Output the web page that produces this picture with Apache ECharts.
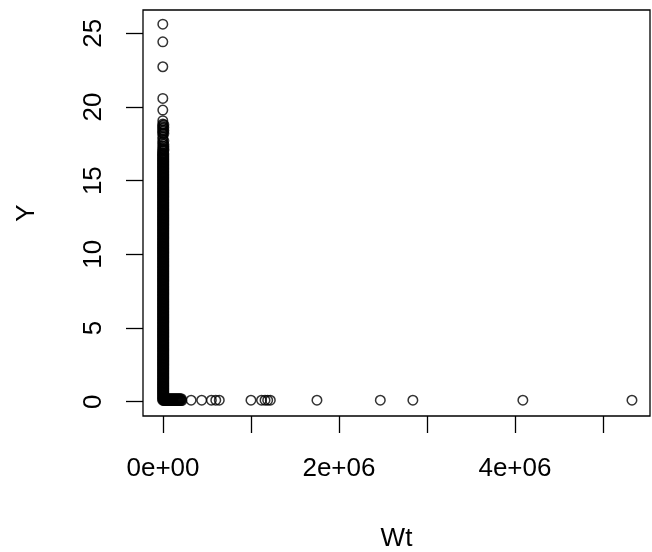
<!DOCTYPE html>
<html><head><meta charset="utf-8">
<script src="https://cdn.jsdelivr.net/npm/echarts@6/dist/echarts.min.js"></script>
<style>html,body{margin:0;padding:0;background:#fff}#c{width:652px;height:552px}</style>
</head><body><div id="c"></div>
<script>
// Axis ticks and labels
const xTickValues = [0, 1e6, 2e6, 3e6, 4e6, 5e6];
const xLabelValues = [0, 2e6, 4e6];
const xLabelTexts = ['0e+00', '2e+06', '4e+06'];
const yTickValues = [0, 5, 10, 15, 20, 25];

// Dense column of points near Wt = 0
const colAX = -4000;
const colAY = [0.1,0.2,0.3,0.4,0.5,0.6,0.7,0.8,0.9,1.0,1.1,1.2,1.3,1.4,1.5,1.6,1.7,1.8,1.9,2.0,
2.1,2.2,2.3,2.4,2.5,2.6,2.7,2.8,2.9,3.0,3.1,3.2,3.3,3.4,3.5,3.6,3.7,3.8,3.9,4.0,
4.1,4.2,4.3,4.4,4.5,4.6,4.7,4.8,4.9,5.0,5.1,5.2,5.3,5.4,5.5,5.6,5.7,5.8,5.9,6.0,
6.1,6.2,6.3,6.4,6.5,6.6,6.7,6.8,6.9,7.0,7.1,7.2,7.3,7.4,7.5,7.6,7.7,7.8,7.9,8.0,
8.1,8.2,8.3,8.4,8.5,8.6,8.7,8.8,8.9,9.0,9.1,9.2,9.3,9.4,9.5,9.6,9.7,9.8,9.9,10.0,
10.1,10.2,10.3,10.4,10.5,10.6,10.7,10.8,10.9,11.0,11.1,11.2,11.3,11.4,11.5,11.6,11.7,11.8,11.9,12.0,
12.1,12.2,12.3,12.4,12.5,12.6,12.7,12.8,12.9,13.0,13.1,13.2,13.3,13.4,13.5,13.6,13.7,13.8,13.9,14.0,
14.1,14.2,14.3,14.4,14.5,14.6,14.7,14.8,14.9,15.0,15.1,15.2,15.3,15.4,15.5,15.6,15.7,15.8,15.9,16.0,
16.1,16.2,16.3,16.4,16.5,16.6,16.7,16.8,16.9];
const colBX = 9000;
const colBY = [0.15,0.25,0.35,0.45,0.55,0.65,0.75,0.85,0.95,1.05,1.15,1.25,1.35,1.45,1.55,1.65,1.75,1.85,1.95,2.05,
2.15,2.25,2.35,2.45,2.55,2.65,2.75,2.85,2.95,3.05,3.15,3.25,3.35,3.45,3.55,3.65,3.75,3.85,3.95,4.05,
4.15,4.25,4.35,4.45,4.55,4.65,4.75,4.85,4.95,5.05,5.15,5.25,5.35,5.45,5.55,5.65,5.75,5.85,5.95,6.05,
6.15,6.25,6.35,6.45,6.55,6.65,6.75,6.85,6.95,7.05,7.15,7.25,7.35,7.45,7.55,7.65,7.75,7.85,7.95,8.05,
8.15,8.25,8.35,8.45,8.55,8.65,8.75,8.85,8.95,9.05,9.15,9.25,9.35,9.45,9.55,9.65,9.75,9.85,9.95,10.05,
10.15,10.25,10.35,10.45,10.55,10.65,10.75,10.85,10.95,11.05,11.15,11.25,11.35,11.45,11.55,11.65,11.75,11.85,11.95,12.05,
12.15,12.25,12.35,12.45,12.55,12.65,12.75,12.85,12.95,13.05,13.15,13.25,13.35,13.45,13.55,13.65,13.75,13.85,13.95,14.05,
14.15,14.25,14.35,14.45,14.55,14.65,14.75,14.85,14.95,15.05,15.15,15.25,15.35,15.45,15.55,15.65,15.75,15.85,15.95,16.05,
16.15,16.25,16.35,16.45,16.55,16.65,16.75,16.85];

// Points in the ragged upper part of the column
const upperX = -2000;
const upperY = [25.62, 24.42, 22.73, 20.58, 19.79, 19.07,
  18.85, 18.75, 18.65, 18.55, 18.45, 18.35, 18.25, 18.15,
  17.95, 17.8, 17.62, 17.5, 17.35, 17.2, 17.1, 17.0];
const upper2X = 10000;
const upper2Y = [18.8, 18.6, 18.4, 18.2, 17.7, 17.45, 17.3, 17.15, 17.05];

// Dense row of points along Y ~ 0
const rowAY = 0.08;
const rowAX = [10000,22000,34000,46000,58000,70000,82000,94000,106000,118000,130000,142000,154000,166000,178000,190000,202000,214000];
const rowBY = 0.2;
const rowBX = [16000,28000,40000,52000,64000,76000,88000,100000,112000,124000,136000,148000,160000,172000,184000,196000,208000];

// Isolated points with large Wt
const lowY = 0.1;
const lowX = [320000, 440000, 550000, 600000, 640000, 1000000, 1120000, 1160000, 1190000, 1220000, 1750000, 2470000, 2840000, 4090000, 5330000];

const data = [];
colAY.forEach(y => data.push([colAX, y]));
colBY.forEach(y => data.push([colBX, y]));
upperY.forEach(y => data.push([upperX, y]));
upper2Y.forEach(y => data.push([upper2X, y]));
rowAX.forEach(x => data.push([x, rowAY]));
rowBX.forEach(x => data.push([x, rowBY]));
lowX.forEach(x => data.push([x, lowY]));

const FONT = 'Liberation Sans, Arial, sans-serif';
const FS = 26;

const chart = echarts.init(document.getElementById('c'), null, {renderer: 'canvas'});
chart.setOption({
  animation: false,
  backgroundColor: '#fff',
  grid: {left: 143, right: 2, top: 10, bottom: 136, outerBoundsMode: 'none', containLabel: false,
         show: true, borderColor: '#000', borderWidth: 1.3, backgroundColor: 'transparent'},
  xAxis: {
    type: 'value', min: -227000, max: 5535000,
    name: 'Wt', nameLocation: 'middle', nameGap: 110,
    nameTextStyle: {fontFamily: FONT, fontSize: FS, color: '#000'},
    axisLine: {show: false, onZero: false},
    splitLine: {show: false},
    axisTick: {show: true, inside: false, length: 17, lineStyle: {color: '#000', width: 1.3}, customValues: xTickValues},
    axisLabel: {
      show: true, margin: 40, fontFamily: FONT, fontSize: FS, color: '#000',
      customValues: xLabelValues,
      formatter: v => { const i = xLabelValues.indexOf(v); return i >= 0 ? xLabelTexts[i] : ''; }
    }
  },
  yAxis: {
    type: 'value', min: -0.97, max: 26.58,
    name: 'Y', nameLocation: 'middle', nameGap: 103,
    nameTextStyle: {fontFamily: FONT, fontSize: FS, color: '#000'},
    axisLine: {show: false, onZero: false},
    splitLine: {show: false},
    axisTick: {show: true, inside: false, length: 17, lineStyle: {color: '#000', width: 1.3}, customValues: yTickValues},
    axisLabel: {
      show: true, margin: 36, rotate: 90, align: 'center', verticalAlign: 'bottom',
      fontFamily: FONT, fontSize: FS, color: '#000', customValues: yTickValues
    }
  },
  series: [{
    type: 'scatter',
    data: data,
    symbol: 'circle',
    symbolSize: 9.5,
    large: false,
    silent: true,
    itemStyle: {color: 'rgba(0,0,0,0)', borderColor: '#000', borderWidth: 1.5},
    emphasis: {disabled: true}
  }]
});
</script>
</body></html>
